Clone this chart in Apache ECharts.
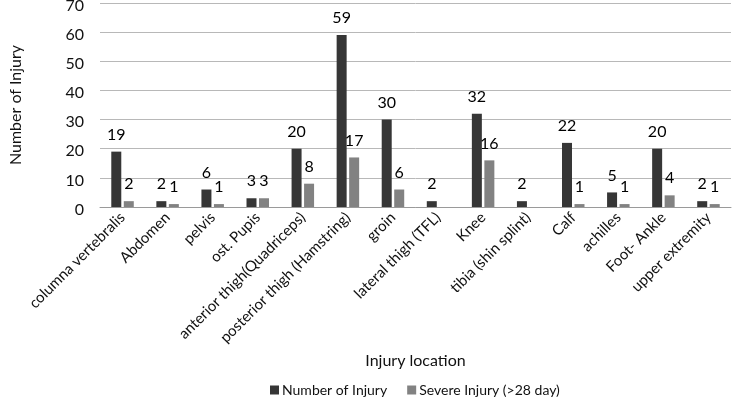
<!DOCTYPE html>
<html><head><meta charset="utf-8">
<script src="https://cdn.jsdelivr.net/npm/echarts@6/dist/echarts.min.js"></script>
<style>html,body{margin:0;padding:0;background:#fff}#c{width:732px;height:399px}</style>
</head><body><div id="c"></div>
<script>
const categories = ["columna vertebralis","Abdomen","pelvis","ost. Pupis","anterior thigh(Quadriceps)","posterior thigh (Hamstring)","groin","lateral thigh (TFL)","Knee","tibia (shin splint)","Calf","achilles","Foot- Ankle","upper extremity"];
const numberOfInjury = [19,2,6,3,20,59,30,2,32,2,22,5,20,2];
const severeInjury = [2,1,1,3,8,17,6,null,16,null,1,1,4,1];
const yTicks = {min:0,max:70,interval:10};
const font = 'Lato, "Open Sans", sans-serif';
const chart = echarts.init(document.getElementById('c'));
chart.setOption({
  animation:false,
  textStyle:{fontFamily:font},
  grid:{left:100,right:1,top:3,bottom:192,containLabel:false,outerBoundsMode:'none'},
  legend:{top:378,left:265,itemWidth:9,itemHeight:9,itemGap:20,icon:'rect',
    textStyle:{fontFamily:font,fontSize:14,color:'#111',padding:[0,0,0,-2]},
    data:['Number of Injury','Severe Injury (>28 day)']},
  xAxis:{type:'category',data:categories,
    name:'Injury location',nameLocation:'middle',nameGap:153,
    nameTextStyle:{fontFamily:font,fontSize:16,color:'#111',verticalAlign:'middle'},
    axisLine:{lineStyle:{color:'#9a9a9a',width:1}},axisTick:{show:false},
    axisLabel:{rotate:45,interval:0,fontSize:15,color:'#111',fontFamily:font,margin:8}},
  yAxis:{type:'value',min:yTicks.min,max:yTicks.max,interval:yTicks.interval,
    name:'Number of Injury',nameLocation:'middle',nameGap:76,nameRotate:90,
    nameTextStyle:{fontFamily:font,fontSize:16,color:'#111'},
    axisLine:{show:false},axisTick:{show:false},
    axisLabel:{fontSize:16,color:'#111',fontFamily:font,margin:16,verticalAlign:'top',lineHeight:5},
    splitLine:{lineStyle:{color:'#b8b8b8',width:1}}},
  series:[
    {name:'Number of Injury',type:'bar',data:numberOfInjury,barWidth:10,barGap:'25%',
     itemStyle:{color:'#363636'},
     label:{show:true,position:'top',distance:9,fontSize:16,color:'#000',fontFamily:font}},
    {name:'Severe Injury (>28 day)',type:'bar',data:severeInjury,barWidth:10,
     itemStyle:{color:'#828282'},
     label:{show:true,position:'top',distance:9,fontSize:16,color:'#000',fontFamily:font}}
  ]
});
</script></body></html>
